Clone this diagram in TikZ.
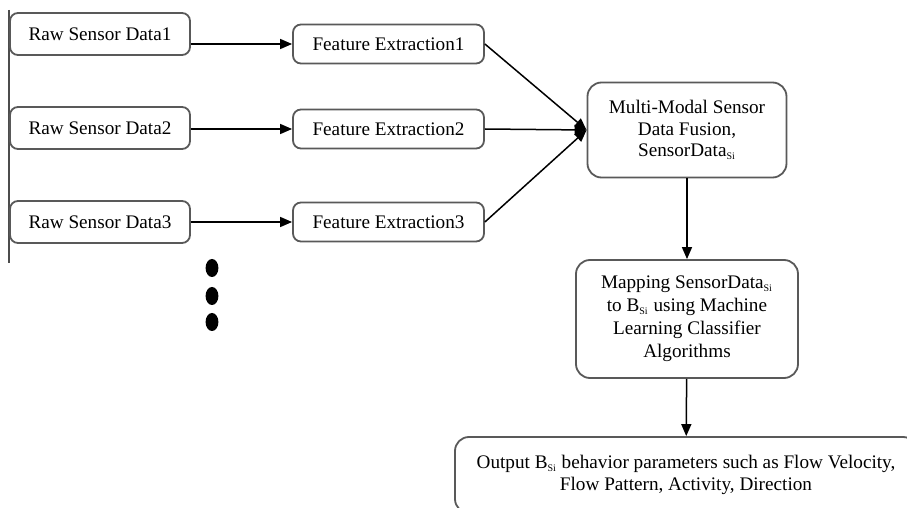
\documentclass[tikz,border=0pt]{standalone}
\usepackage{fontspec}
\setmainfont{Liberation Serif}
\usetikzlibrary{arrows.meta}
\newcommand{\subSi}{\textsubscript{\fontsize{5}{5}\selectfont Si}}
\tikzset{
  box/.style={draw=black!65, line width=0.9pt, rounded corners=4pt, inner sep=0pt, align=center},
  rawbox/.style={box, minimum width=90pt, minimum height=21pt},
  febox/.style={box, minimum width=95.5pt, minimum height=19.5pt},
  bigbox/.style={box, rounded corners=7pt},
  flow/.style={line width=0.75pt, -{Triangle[length=6pt,width=5pt]}}
}
\begin{document}
\begin{tikzpicture}[x=0.5pt,y=-0.5pt,font=\fontsize{9.6}{10.6}\selectfont]
\clip (0,0) rectangle (907,508);

\draw[black!70, line width=0.6pt] (9,10) -- (9,263);

\node[bigbox, minimum width=99.5pt, minimum height=47.5pt] (fusion) at (687,130)
  {Multi-Modal Sensor\\ Data Fusion,\\ SensorData\subSi};
\node[bigbox, minimum width=111pt, minimum height=59pt, font=\fontsize{9.6}{11.5}\selectfont] (mapping) at (687,319)
  {Mapping SensorData\subSi\\ to B\subSi\ using Machine\\ Learning Classifier\\ Algorithms};
\node[bigbox, minimum width=231pt, minimum height=38pt] (output) at (686,475)
  {Output B\subSi\ behavior parameters such as Flow Velocity,\\ Flow Pattern, Activity, Direction};

\foreach \n/\y/\yf in {1/34/44, 2/128/129, 3/222/222}
{
  \node[rawbox] (raw\n) at (100,\y) {Raw Sensor Data\n};
  \node[febox] (fe\n) at (388.5,\yf) {Feature Extraction\n};
  \draw[flow] (raw\n.east |- fe\n) -- (fe\n);
  \draw[flow] (fe\n.east) -- (fusion.west);
}

\draw[flow] (fusion) -- (mapping);
\draw[flow] (mapping) -- (output);

\foreach \y in {268,296,322}
  \fill (212,\y) ellipse [x radius=3.2pt, y radius=4.5pt];

\end{tikzpicture}
\end{document}
